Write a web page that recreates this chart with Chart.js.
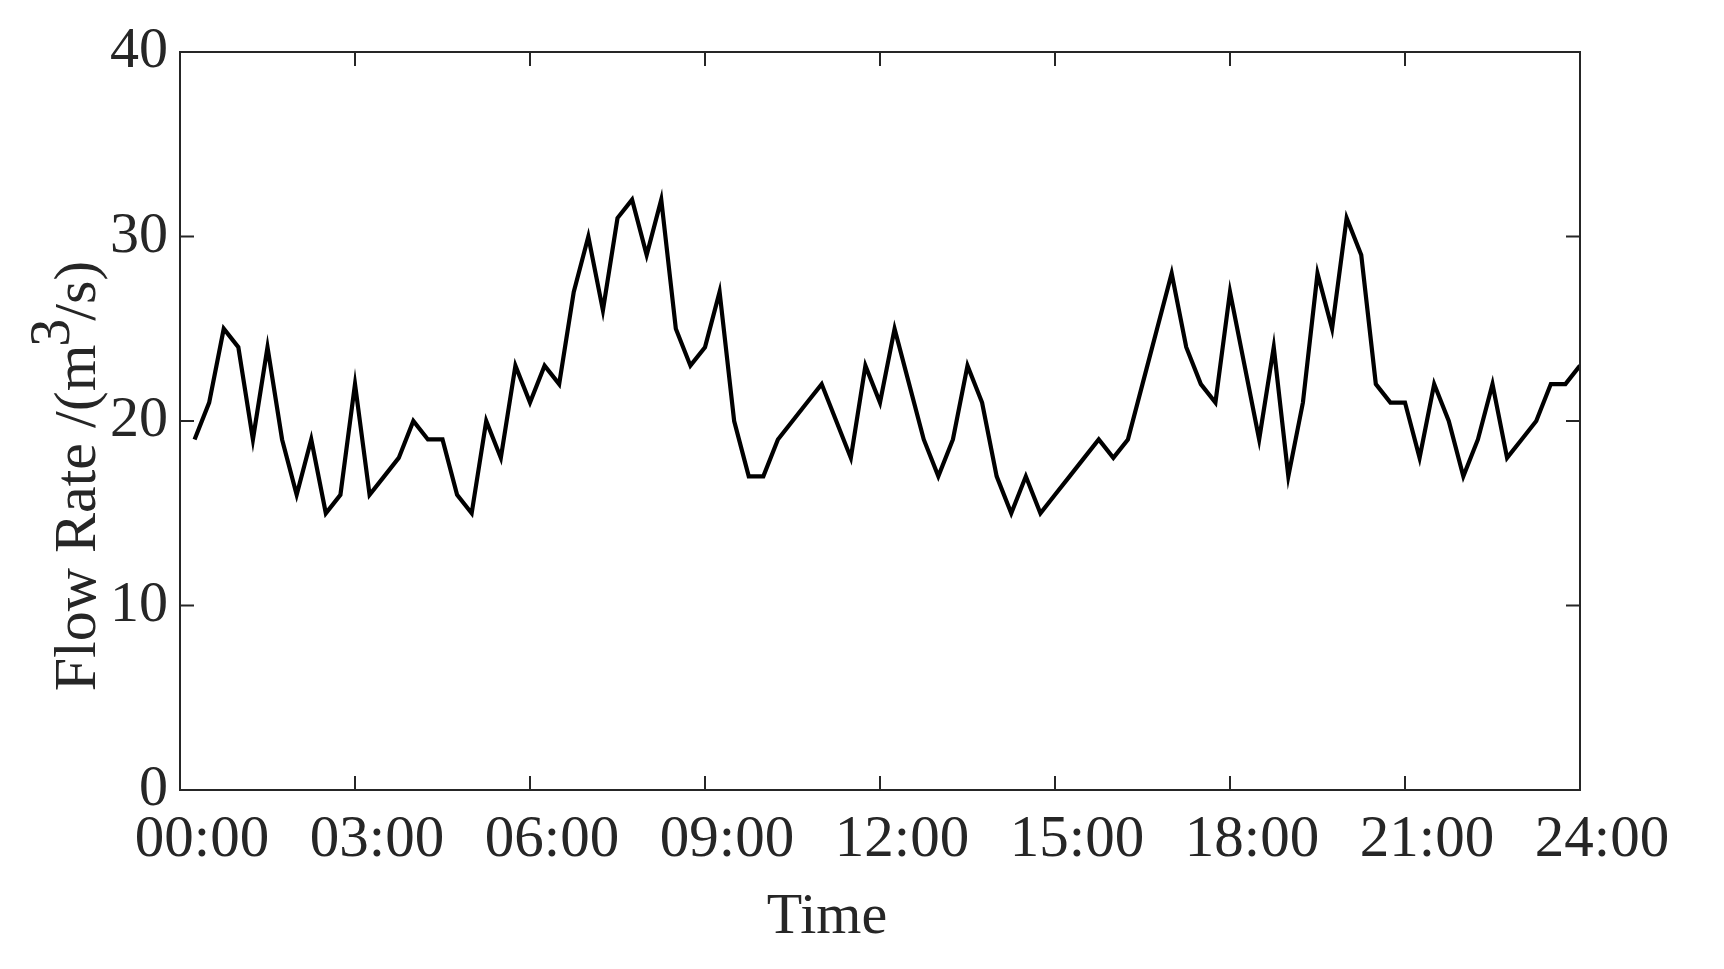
<!DOCTYPE html>
<html>
<head>
<meta charset="utf-8">
<script src="https://cdn.jsdelivr.net/npm/chart.js@4.4.1/dist/chart.umd.min.js"></script>
<style>
  html, body { margin: 0; padding: 0; background: #ffffff; }
  #wrap { width: 1724px; height: 969px; position: relative; }
</style>
</head>
<body>
<div id="wrap"><canvas id="c" width="1724" height="969"></canvas></div>
<script>
// Time stamps (15-minute intervals)
const timeLabels = [
  '00:15','00:30','00:45','01:00','01:15','01:30','01:45','02:00','02:15','02:30','02:45','03:00',
  '03:15','03:30','03:45','04:00','04:15','04:30','04:45','05:00','05:15','05:30','05:45','06:00',
  '06:15','06:30','06:45','07:00','07:15','07:30','07:45','08:00','08:15','08:30','08:45','09:00',
  '09:15','09:30','09:45','10:00','10:15','10:30','10:45','11:00','11:15','11:30','11:45','12:00',
  '12:15','12:30','12:45','13:00','13:15','13:30','13:45','14:00','14:15','14:30','14:45','15:00',
  '15:15','15:30','15:45','16:00','16:15','16:30','16:45','17:00','17:15','17:30','17:45','18:00',
  '18:15','18:30','18:45','19:00','19:15','19:30','19:45','20:00','20:15','20:30','20:45','21:00',
  '21:15','21:30','21:45','22:00','22:15','22:30','22:45','23:00','23:15','23:30','23:45','24:00'
];
// Flow rate values (m^3/s)
const flowRate = [
  19,21,25,24,19,24,19,16,19,15,16,22,
  16,17,18,20,19,19,16,15,20,18,23,21,
  23,22,27,30,26,31,32,29,32,25,23,24,
  27,20,17,17,19,20,21,22,20,18,23,21,
  25,22,19,17,19,23,21,17,15,17,15,16,
  17,18,19,18,19,22,25,28,24,22,21,27,
  23,19,24,17,21,28,25,31,29,22,21,21,
  18,22,20,17,19,22,18,19,20,22,22,23
];
const xTickLabels = ['00:00','03:00','06:00','09:00','12:00','15:00','18:00','21:00','24:00'];
const xTickHours = [0,3,6,9,12,15,18,21,24];
const yTickValues = [0,10,20,30,40];
const xTitle = 'Time';
const yTitleMain = 'Flow Rate /(m';
const yTitleSup = '3';
const yTitleEnd = '/s)';

const toHours = s => { const p = s.split(':'); return +p[0] + (+p[1]) / 60; };
const points = timeLabels.map((t, i) => ({ x: toHours(t), y: flowRate[i] }));

const AXIS_COLOR = '#262626';
const FONT = '"Liberation Serif", "Times New Roman", serif';

const framePlugin = {
  id: 'frame',
  afterDatasetsDraw(chart) {
    const { ctx, chartArea: a, scales } = chart;
    ctx.save();
    ctx.strokeStyle = AXIS_COLOR;
    ctx.lineWidth = 2;
    ctx.strokeRect(a.left, a.top, a.right - a.left, a.bottom - a.top);
    const tl = 14;
    ctx.beginPath();
    xTickHours.forEach(h => {
      const px = scales.x.getPixelForValue(h);
      ctx.moveTo(px, a.bottom); ctx.lineTo(px, a.bottom - tl);
      ctx.moveTo(px, a.top); ctx.lineTo(px, a.top + tl);
    });
    yTickValues.forEach(v => {
      const py = scales.y.getPixelForValue(v);
      ctx.moveTo(a.left, py); ctx.lineTo(a.left + tl, py);
      ctx.moveTo(a.right, py); ctx.lineTo(a.right - tl, py);
    });
    ctx.stroke();
    ctx.restore();
  },
  afterDraw(chart) {
    const { ctx } = chart;
    ctx.save();
    ctx.fillStyle = AXIS_COLOR;
    // x title
    ctx.font = '58px ' + FONT;
    ctx.textAlign = 'center';
    ctx.textBaseline = 'alphabetic';
    ctx.fillText(xTitle, 827, 933);
    // y title (rotated, with superscript)
    ctx.translate(95, 474);
    ctx.rotate(-Math.PI / 2);
    const mainFont = '60px ' + FONT;
    const supFont = '56px ' + FONT;
    ctx.font = mainFont;
    const w1 = ctx.measureText(yTitleMain).width;
    const w3 = ctx.measureText(yTitleEnd).width;
    ctx.font = supFont;
    const w2 = ctx.measureText(yTitleSup).width;
    const total = w1 + w2 + w3;
    let x0 = -total / 2;
    ctx.textAlign = 'left';
    ctx.font = mainFont;
    ctx.fillText(yTitleMain, x0, 0);
    ctx.font = supFont;
    ctx.fillText(yTitleSup, x0 + w1 - 2, -26);
    ctx.font = mainFont;
    ctx.fillText(yTitleEnd, x0 + w1 + w2 - 4, 0);
    ctx.restore();
  }
};

new Chart(document.getElementById('c'), {
  type: 'line',
  data: {
    datasets: [{
      label: 'Flow Rate',
      data: points,
      borderColor: '#000000',
      borderWidth: 4.2,
      pointRadius: 0,
      tension: 0,
      fill: false
    }]
  },
  options: {
    responsive: false,
    animation: false,
    layout: { padding: { top: 52, right: 144, left: 0, bottom: 0 } },
    plugins: { legend: { display: false }, tooltip: { enabled: false } },
    scales: {
      x: {
        type: 'linear',
        min: 0, max: 24,
        afterBuildTicks: s => { s.ticks = xTickHours.map(v => ({ value: v })); },
        afterFit: s => { s.height = 179; },
        ticks: {
          autoSkip: false,
          maxRotation: 0,
          padding: 15,
          labelOffset: 22,
          color: AXIS_COLOR,
          font: { family: FONT, size: 59 },
          callback: (v) => xTickLabels[xTickHours.indexOf(v)]
        },
        grid: { display: false, drawTicks: false },
        border: { display: true, color: AXIS_COLOR, width: 2 }
      },
      y: {
        min: 0, max: 40,
        afterBuildTicks: s => { s.ticks = yTickValues.map(v => ({ value: v })); },
        afterFit: s => { s.width = 180; },
        ticks: {
          padding: 12,
          color: AXIS_COLOR,
          font: { family: FONT, size: 58 }
        },
        grid: { display: false, drawTicks: false },
        border: { display: true, color: AXIS_COLOR, width: 2 }
      }
    }
  },
  plugins: [framePlugin]
});
</script>
</body>
</html>
